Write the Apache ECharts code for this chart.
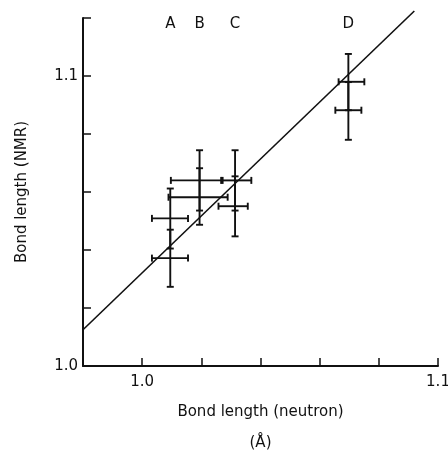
<!DOCTYPE html>
<html>
<head>
<meta charset="utf-8">
<script src="https://cdn.jsdelivr.net/npm/echarts@6/dist/echarts.min.js"></script>
<style>
html,body{margin:0;padding:0;background:#fff;}
#chart{width:448px;height:459px;}
</style>
</head>
<body>
<div id="chart"></div>
<script>
var compounds = ['A', 'B', 'C', 'D'];
var compoundX = [1.0095, 1.0194, 1.0314, 1.0697];
var labelY = 1.118;

// Each measurement: neutron bond length (x), NMR bond length (y), with error ranges
var pointX    = [1.0095, 1.0095, 1.0194, 1.0194, 1.0314, 1.0314, 1.0697, 1.0697];
var pointY    = [1.0509, 1.0372, 1.0640, 1.0582, 1.0640, 1.0551, 1.0980, 1.0882];
var pointXLow = [1.0033, 1.0033, 1.0097, 1.0089, 1.0267, 1.0258, 1.0664, 1.0653];
var pointXHigh= [1.0155, 1.0155, 1.0272, 1.0289, 1.0369, 1.0357, 1.0751, 1.0741];
var pointYLow = [1.0405, 1.0273, 1.0536, 1.0487, 1.0536, 1.0447, 1.0882, 1.0780];
var pointYHigh= [1.0612, 1.0470, 1.0744, 1.0682, 1.0744, 1.0654, 1.1076, 1.0979];

// Fitted line
var fitX = [0.98, 1.092];
var fitY = [1.0125, 1.1224];

var xTicks = ['1.0', '1.1'];
var yTicks = ['1.0', '1.1'];

var errData = pointX.map(function (x, i) {
  return [x, pointY[i], pointXLow[i], pointXHigh[i], pointYLow[i], pointYHigh[i]];
});
var fitData = fitX.map(function (x, i) { return [x, fitY[i]]; });
var labelData = compounds.map(function (c, i) { return { value: [compoundX[i], labelY], name: c }; });

function fmt(list) {
  return function (v) {
    for (var i = 0; i < list.length; i++) {
      if (Math.abs(v - parseFloat(list[i])) < 1e-6) return list[i];
    }
    return '';
  };
}

var FONT = 'DejaVu Sans';
var INK = '#111';
var chart = echarts.init(document.getElementById('chart'), null, { renderer: 'canvas' });
chart.setOption({
  animation: false,
  backgroundColor: '#fff',
  grid: { left: 83, right: 10, top: 18, bottom: 93, containLabel: false, outerBoundsMode: 'none' },
  xAxis: {
    type: 'value', min: 0.98, max: 1.1, interval: 0.02,
    name: 'Bond length (neutron)\n\n(Å)',
    nameLocation: 'middle', nameGap: 38,
    nameTextStyle: { fontFamily: FONT, fontSize: 15, color: INK, lineHeight: 15.5 },
    axisLine: { lineStyle: { color: INK, width: 2 } },
    axisTick: { inside: true, length: 8, lineStyle: { color: INK, width: 1.5 } },
    axisLabel: { formatter: fmt(xTicks), margin: 9, fontFamily: FONT, fontSize: 15, color: INK, showMinLabel: true, showMaxLabel: true },
    splitLine: { show: false }
  },
  yAxis: {
    type: 'value', min: 1.0, max: 1.12, interval: 0.02,
    name: 'Bond length (NMR)',
    nameLocation: 'middle', nameGap: 53,
    nameTextStyle: { fontFamily: FONT, fontSize: 15, color: INK },
    axisLine: { show: true, lineStyle: { color: INK, width: 2 } },
    axisTick: { show: true, inside: true, length: 8, lineStyle: { color: INK, width: 1.5 } },
    axisLabel: { formatter: fmt(yTicks), margin: 5, fontFamily: FONT, fontSize: 15, color: INK },
    splitLine: { show: false }
  },
  series: [
    {
      type: 'line', data: fitData, symbol: 'none', clip: false,
      lineStyle: { color: INK, width: 1.6 }, z: 3
    },
    {
      type: 'custom', data: errData, clip: false, z: 4,
      encode: { x: [0, 2, 3], y: [1, 4, 5] },
      renderItem: function (params, api) {
        var x = api.value(0), y = api.value(1);
        var l = api.coord([api.value(2), y]);
        var r = api.coord([api.value(3), y]);
        var b = api.coord([x, api.value(4)]);
        var t = api.coord([x, api.value(5)]);
        var st = { stroke: INK, lineWidth: 1.9 };
        var cap = 3.5;
        function ln(x1, y1, x2, y2) {
          return { type: 'line', shape: { x1: x1, y1: y1, x2: x2, y2: y2 }, style: st };
        }
        return {
          type: 'group',
          children: [
            ln(l[0], l[1], r[0], r[1]),
            ln(l[0], l[1] - cap, l[0], l[1] + cap),
            ln(r[0], r[1] - cap, r[0], r[1] + cap),
            ln(b[0], b[1], t[0], t[1]),
            ln(b[0] - cap, b[1], b[0] + cap, b[1]),
            ln(t[0] - cap, t[1], t[0] + cap, t[1])
          ]
        };
      }
    },
    {
      type: 'scatter', data: labelData, symbolSize: 0, z: 5,
      itemStyle: { color: INK, opacity: 1 },
      label: {
        show: true, position: 'inside', formatter: '{b}',
        fontFamily: FONT, fontSize: 15, color: INK, textBorderWidth: 0, opacity: 1
      }
    }
  ]
});
</script>
</body>
</html>
